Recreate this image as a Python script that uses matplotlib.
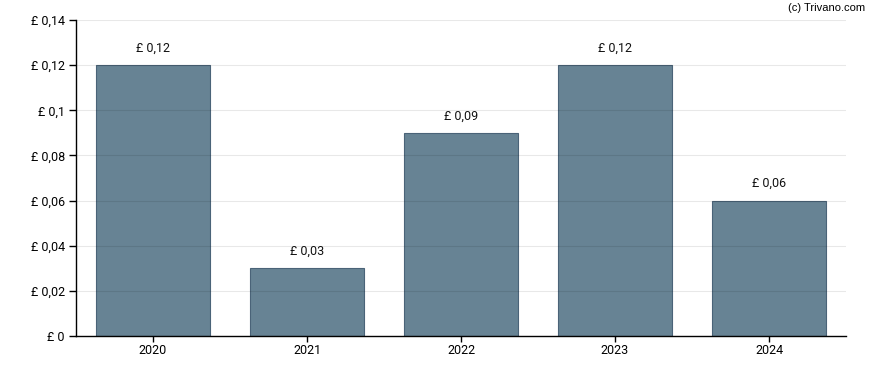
import matplotlib
matplotlib.use("Agg")
import matplotlib.pyplot as plt

years = ["2020", "2021", "2022", "2023", "2024"]
values = [0.12, 0.03, 0.09, 0.12, 0.06]
labels = ["£ 0,12", "£ 0,03", "£ 0,09", "£ 0,12", "£ 0,06"]
yticks = [0, 0.02, 0.04, 0.06, 0.08, 0.10, 0.12, 0.14]
ytick_labels = ["£ 0", "£ 0,02", "£ 0,04", "£ 0,06", "£ 0,08", "£ 0,1", "£ 0,12", "£ 0,14"]

plt.rcParams['font.family'] = ['Roboto', 'DejaVu Sans']

fig = plt.figure(figsize=(8.88, 3.70), dpi=100)
ax = fig.add_axes([76/888, 34/370, 770/888, 316/370])

x = list(range(len(years)))
ax.bar(x, values, width=0.74, color="#678394", edgecolor="#4a6378", linewidth=0.8, zorder=2)
for xi, v, lab in zip(x, values, labels):
    ax.annotate(lab, (xi, v), xytext=(0, 7.5), textcoords="offset points",
                ha="center", va="bottom", fontsize=9, color="#111111")

ax.set_xlim(-0.5, 4.5)
ax.set_ylim(0, 0.14)
ax.set_xticks(x)
ax.set_xticklabels(years, fontsize=9)
ax.set_yticks(yticks)
ax.set_yticklabels(ytick_labels, fontsize=9)
ax.yaxis.grid(True, color="black", alpha=0.09, linewidth=0.8, zorder=3)
ax.set_axisbelow(False)
for s in ["top", "right"]:
    ax.spines[s].set_visible(False)
ax.spines["left"].set_linewidth(1.0)
ax.spines["bottom"].set_linewidth(1.0)
ax.tick_params(axis="y", length=5, width=1, pad=3)
ax.tick_params(axis="x", length=4, width=1, pad=2)

fig.text(865/888, 1 - 8/370, "(c) Trivano.com", ha="right", va="center", fontsize=8,
         family=["Liberation Sans", "DejaVu Sans"])

fig.savefig("out.png", dpi=100)
